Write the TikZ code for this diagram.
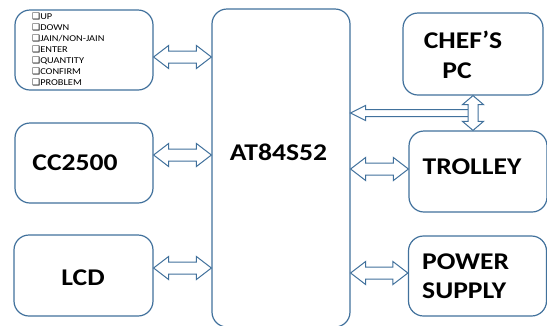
\documentclass[tikz,border=0pt]{standalone}
\usepackage{fontspec}
\setmainfont{Carlito}
\newfontfamily\lbl[FakeStretch=1.15]{Carlito}
\newfontfamily\symf{DejaVu Sans}
\usetikzlibrary{calc}
\definecolor{bd}{HTML}{41719C}
\newcommand\dblarr[2]{%
  \draw[darr] let \p1=(#1), \p2=(#2) in
    (\x1,\y1) -- (\x1+15pt,\y1+11.5pt) -- (\x1+15pt,\y1+6pt) -- (\x2-15pt,\y1+6pt)
    -- (\x2-15pt,\y1+11.5pt) -- (\x2,\y1) -- (\x2-15pt,\y1-11.5pt) -- (\x2-15pt,\y1-6pt)
    -- (\x1+15pt,\y1-6pt) -- (\x1+15pt,\y1-11.5pt) -- cycle;}
\begin{document}
\begin{tikzpicture}[x=1pt,y=-1pt,
  box/.style={draw=bd, line width=1.2pt, rounded corners=15pt, fill=white, inner sep=0pt},
  darr/.style={draw=bd, line width=1pt, fill=white, line join=miter},
  lab/.style={font=\lbl\bfseries\fontsize{24}{29}\selectfont, inner sep=0pt, anchor=base},
  item/.style={font=\lbl\fontsize{9}{11}\selectfont, inner sep=0pt, anchor=base west}]
\clip (0,0) rectangle (547,325);
\useasboundingbox (0,0) rectangle (547,325);
% boxes
\node[box, minimum width=138pt, minimum height=80pt] (keys) at (84,50) {};
\node[box, minimum width=138pt, minimum height=80pt] (cc) at (84,163) {};
\node[box, minimum width=139pt, minimum height=81pt] (lcd) at (83.5,275.5) {};
\node[box, minimum width=138pt, minimum height=318pt] (at) at (281,168) {};
\node[box, minimum width=140pt, minimum height=82pt] (chef) at (473,54) {};
\node[box, minimum width=138pt, minimum height=81pt] (trolley) at (478,171.5) {};
\node[box, minimum width=138pt, minimum height=80pt] (power) at (477.5,276) {};
% texts
\foreach \t [count=\i] in {UP,DOWN,JAIN/NON-JAIN,ENTER,QUANTITY,CONFIRM,PROBLEM}
  \node[item] (k\i) at (32,8.5+11*\i) {{\symf\fontsize{9}{11}\selectfont ❑}\t};
\node[lab] (attxt) at (278.5,160) {AT84S52};
\node[lab] (cctxt) at (75,170) {CC2500};
\node[lab] (lcdtxt) at (83,285) {LCD};
\node[lab] (trtxt) at (472,174) {TROLLEY};
\node[lab, anchor=base west] (pw1) at (422,269) {POWER};
\node[lab, anchor=base west] (pw2) at (422,298) {SUPPLY};
\node[lab] (ch1) at (463,48) {CHEF’S};
\node[lab] (ch2) at (457,78) {PC};
% connector end points
\coordinate (a1s) at ([yshift=-7pt]keys.east);
\coordinate (a1e) at (a1s -| at.west);
\coordinate (a2s) at ([yshift=8pt]cc.east);
\coordinate (a2e) at (a2s -| at.west);
\coordinate (a3s) at ([yshift=7.5pt]lcd.east);
\coordinate (a3e) at (a3s -| at.west);
\coordinate (a4e) at ([yshift=2.5pt]trolley.west);
\coordinate (a4s) at (a4e -| at.east);
\coordinate (a5e) at ([yshift=3pt]power.west);
\coordinate (a5s) at (a5e -| at.east);
\dblarr{a1s}{a1e}
\dblarr{a2s}{a2e}
\dblarr{a3s}{a3e}
\dblarr{a4s}{a4e}
\dblarr{a5s}{a5e}
% chef's PC links
\coordinate (vt) at (chef.south);
\coordinate (vb) at (chef.south |- trolley.north);
\coordinate (vm) at ($(vt)!0.5!(vb)$);
\coordinate (ht) at ([xshift=-3pt]vm);
\coordinate (hh) at (vm -| at.east);
\draw[darr] let \p1=(hh), \p2=(ht) in
  (\x1,\y1) -- (\x1+15pt,\y1+7.5pt) -- (\x1+15pt,\y1+3.5pt) -- (\x2,\y1+3.5pt)
  -- (\x2,\y1-3.5pt) -- (\x1+15pt,\y1-3.5pt) -- (\x1+15pt,\y1-7.5pt) -- cycle;
\draw[darr] let \p1=(vt), \p2=(vb) in
  (\x1,\y1) -- (\x1+10.5pt,\y1-9pt) -- (\x1+5pt,\y1-9pt) -- (\x1+5pt,\y2+9pt)
  -- (\x1+10.5pt,\y2+9pt) -- (\x1,\y2) -- (\x1-10.5pt,\y2+9pt) -- (\x1-5pt,\y2+9pt)
  -- (\x1-5pt,\y1-9pt) -- (\x1-10.5pt,\y1-9pt) -- cycle;
\end{tikzpicture}
\end{document}
